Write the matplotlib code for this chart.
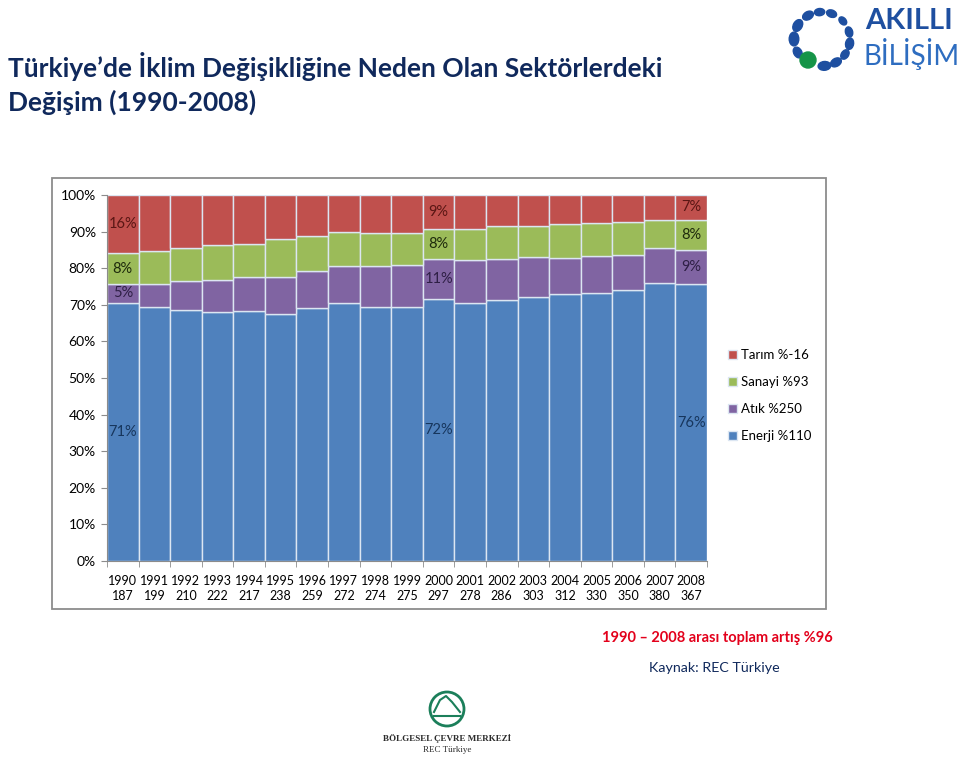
import matplotlib.pyplot as plt
from matplotlib.patches import Rectangle, Circle, Ellipse
import numpy as np

plt.rcParams['font.family'] = ['Lato', 'DejaVu Sans']

# --- veriler ---
yillar = ["1990", "1991", "1992", "1993", "1994", "1995", "1996", "1997", "1998", "1999",
          "2000", "2001", "2002", "2003", "2004", "2005", "2006", "2007", "2008"]
toplam = [187, 199, 210, 222, 217, 238, 259, 272, 274, 275,
          297, 278, 286, 303, 312, 330, 350, 380, 367]
enerji = [70.6, 69.4, 68.5, 68.0, 68.3, 67.6, 69.1, 70.5, 69.5, 69.4,
          71.6, 70.5, 71.4, 72.0, 72.9, 73.2, 74.0, 76.0, 75.6]
atik = [5.1, 6.3, 8.1, 8.8, 9.4, 10.1, 10.0, 10.2, 11.0, 11.5,
        10.9, 11.7, 11.1, 11.0, 9.9, 10.1, 9.5, 9.5, 9.4]
sanayi = [8.4, 9.0, 9.0, 9.5, 8.8, 10.2, 9.6, 9.1, 9.0, 8.8,
          8.1, 8.4, 8.9, 8.6, 9.3, 9.1, 9.0, 7.7, 8.2]
tarim = [15.9, 15.3, 14.4, 13.7, 13.5, 12.1, 11.3, 10.2, 10.5, 10.3,
         9.4, 9.4, 8.6, 8.4, 7.9, 7.6, 7.5, 6.8, 6.8]
etiketli_yillar = ["1990", "2000", "2008"]

seriler = [("Enerji %110", enerji, "#4F81BD", "#17365D"),
           ("Atık %250", atik, "#8064A2", "#2E1F45"),
           ("Sanayi %93", sanayi, "#9BBB59", "#1E2A0C"),
           ("Tarım %-16", tarim, "#C0504D", "#5A1614")]

W, H = 960, 758
fig = plt.figure(figsize=(W / 100, H / 100), dpi=100)


def px(x, y):
    return x / W, 1 - y / H


# grafik çerçevesi (eksenlerin arkasında)
fig.patches.append(Rectangle(px(52, 609), 774 / W, 431 / H, transform=fig.transFigure,
                             facecolor="white", edgecolor="#8C8C8C", linewidth=1.3,
                             zorder=-5))

ax = fig.add_axes([107 / W, 1 - 561 / H, 600 / W, 366 / H])
ax.patch.set_alpha(0)
x = np.arange(len(yillar))
alt = np.zeros(len(yillar))
for ad, degerler, renk, yazi_renk in seriler:
    ax.bar(x, degerler, bottom=alt, width=1, color=renk, edgecolor="#DCE6F2",
           linewidth=1, label=ad)
    for yil in etiketli_yillar:
        i = yillar.index(yil)
        ax.text(i, alt[i] + degerler[i] / 2, f"{round(degerler[i])}%", ha="center",
                va="center", fontsize=10.5, color=yazi_renk)
    alt += np.array(degerler)

ax.set_xlim(-0.5, len(yillar) - 0.5)
ax.set_ylim(0, 100)
ax.set_yticks(range(0, 101, 10))
ax.set_yticklabels([f"{v}%" for v in range(0, 101, 10)], fontsize=10)
ax.set_xticks(x)
ax.set_xticklabels([f"{y}\n{t}" for y, t in zip(yillar, toplam)], fontsize=9,
                   linespacing=1.35)
ax.set_xticks(np.arange(-0.5, len(yillar)), minor=True)
ax.tick_params(axis="x", which="major", length=0, pad=10)
ax.tick_params(axis="x", which="minor", length=4, color="#8C8C8C")
ax.tick_params(axis="y", length=4, color="#8C8C8C", pad=4)
for s in ["top", "right"]:
    ax.spines[s].set_visible(False)
for s in ["left", "bottom"]:
    ax.spines[s].set_color("#8C8C8C")

h, l = ax.get_legend_handles_labels()
fig.legend(h[::-1], l[::-1], loc="upper left", bbox_to_anchor=px(716, 337),
           frameon=False, fontsize=9.5, handlelength=0.7, handleheight=0.7,
           handletextpad=0.3, labelspacing=1.15)

# başlık
fig.text(*px(8, 77), "Türkiye’de İklim Değişikliğine Neden Olan Sektörlerdeki",
         fontsize=19, fontweight="bold", color="#10295C", va="baseline")
fig.text(*px(8, 111), "Değişim (1990-2008)",
         fontsize=19, fontweight="bold", color="#10295C", va="baseline")

fig.text(*px(717, 638), "1990 – 2008 arası toplam artış %96", fontsize=10.5,
         fontweight="bold", color="#E3001B", ha="center", va="center")
fig.text(*px(714, 668), "Kaynak: REC Türkiye", fontsize=10.3, color="#10295C",
         ha="center", va="center")

# AKILLI BİLİŞİM logosu (yaklaşık)
lax = fig.add_axes([0, 0, 1, 1], zorder=5)
lax.set_xlim(0, W)
lax.set_ylim(H, 0)
lax.axis("off")
for ang, r in [(150, 5), (180, 6), (210, 5.5), (240, 5), (265, 4.5), (290, 4.5),
               (318, 4), (345, 4.5), (10, 5), (35, 4.5), (60, 5), (85, 5.5)]:
    t = np.radians(ang)
    lax.add_patch(Ellipse((822 + 28 * np.cos(t), 39 + 27 * np.sin(t)), r * 2.3, r * 1.6,
                          angle=ang + 90, color="#1E4FA0"))
lax.add_patch(Circle((808, 60), 8, color="#159447"))
lax.text(865, 21, "AKILLI", fontsize=21, fontweight="bold", color="#1E4FA0",
         va="center", ha="left")
lax.text(864, 54, "BİLİŞİM", fontsize=20, color="#2E6DC0", va="center", ha="left")

# REC logosu (yaklaşık)
lax.add_patch(Circle((447, 709), 17, fill=False, edgecolor="#1B7F5A", linewidth=2))
lax.plot([434, 440, 446, 452, 460], [712, 700, 696, 702, 712], color="#1B7F5A", lw=1.5)
lax.plot([434, 460], [716, 716], color="#1B7F5A", lw=1.5)
lax.text(447, 738, "BÖLGESEL ÇEVRE MERKEZİ", fontsize=6.5, fontweight="bold",
         color="#2B2B2B", ha="center", va="center", family="Liberation Serif")
lax.text(447, 750, "REC Türkiye", fontsize=6.5, color="#2B2B2B", ha="center",
         va="center", family="Liberation Serif")

fig.savefig("out.png", dpi=100)
